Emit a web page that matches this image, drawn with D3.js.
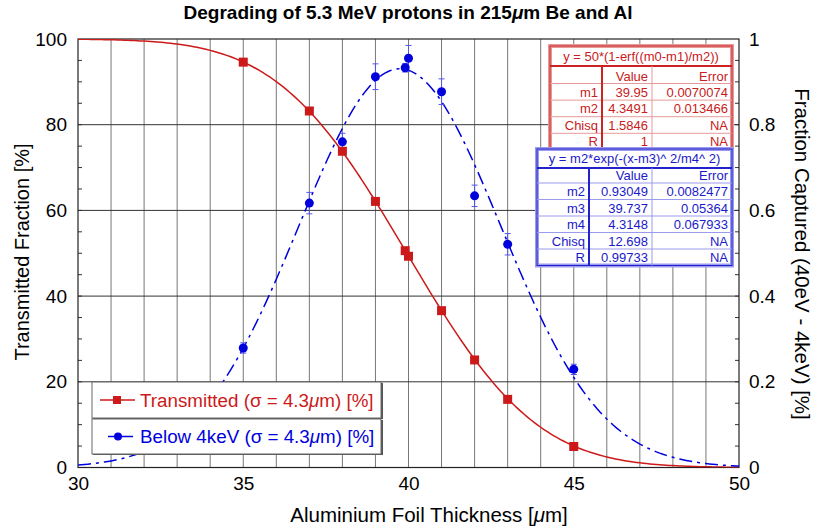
<!DOCTYPE html>
<html>
<head>
<meta charset="utf-8">
<script src="https://cdn.jsdelivr.net/npm/d3@7"></script>
<style>
  body { margin: 0; background: #fff; }
  svg { font-family: "Liberation Sans", Arial, sans-serif; }
</style>
</head>
<body>
<svg id="chart" width="814" height="531"></svg>
<script>
// measured thickness [um] and transmitted fraction [%]
const transX = [35, 37, 38, 39, 39.9, 40, 41, 42, 43, 45];
const transY = [94.6, 83.2, 73.8, 62.1, 50.6, 49.3, 36.6, 25.1, 15.9, 4.9];

// fraction captured below 4 keV, with error bars
const capX = [35, 37, 38, 39, 39.9, 40, 41, 42, 43, 45];
const capY = [0.279, 0.617, 0.760, 0.912, 0.933, 0.955, 0.877, 0.634, 0.521, 0.229];
const capErr = [0.012, 0.025, 0.02, 0.03, 0.01, 0.03, 0.03, 0.025, 0.025, 0.012];

// fit results as printed in the two tables
const transFormula = "y = 50*(1-erf((m0-m1)/m2))";
const transNames = ["m1", "m2", "Chisq", "R"];
const transValues = ["39.95", "4.3491", "1.5846", "1"];
const transErrors = ["0.0070074", "0.013466", "NA", "NA"];

const capFormula = "y = m2*exp(-(x-m3)^ 2/m4^ 2)";
const capNames = ["m2", "m3", "m4", "Chisq", "R"];
const capValues = ["0.93049", "39.737", "4.3148", "12.698", "0.99733"];
const capErrors = ["0.0082477", "0.05364", "0.067933", "NA", "NA"];

const xTicks = [30, 35, 40, 45, 50];
const yLeftTicks = [0, 20, 40, 60, 80, 100];
const yRightTicks = [0, 0.2, 0.4, 0.6, 0.8, 1];

const RED = "#cc1a1a";
const BLUE = "#0000dd";

const svg = d3.select("#chart");
const pL = 78, pR = 739, pT = 39, pB = 467.5;

const x = d3.scaleLinear().domain([30, 50]).range([pL, pR]);
const yL = d3.scaleLinear().domain([0, 100]).range([pB, pT]);
const yR = d3.scaleLinear().domain([0, 1]).range([pB, pT]);

svg.append("defs").append("clipPath").attr("id", "plot-clip")
  .append("rect").attr("x", pL).attr("y", pT)
  .attr("width", pR - pL).attr("height", pB - pT);

// grid: vertical every 1 um, horizontal at major left ticks
const grid = svg.append("g").attr("class", "grid");
grid.selectAll("line.v").data(d3.range(31, 50)).enter()
  .append("line").attr("class", "v")
  .attr("x1", d => x(d)).attr("x2", d => x(d))
  .attr("y1", pT).attr("y2", pB)
  .attr("stroke", "#777").attr("stroke-width", 1);
grid.selectAll("line.h").data([20, 40, 60, 80]).enter()
  .append("line").attr("class", "h")
  .attr("x1", pL).attr("x2", pR)
  .attr("y1", d => yL(d)).attr("y2", d => yL(d))
  .attr("stroke", "#333").attr("stroke-width", 1);

// axes
const fontSize = "19px";
const axBottom = svg.append("g").attr("transform", `translate(0,${pB})`)
  .call(d3.axisBottom(x).tickValues(xTicks).tickSize(0).tickPadding(9));
const axLeft = svg.append("g").attr("transform", `translate(${pL},0)`)
  .call(d3.axisLeft(yL).tickValues(yLeftTicks).tickSize(0).tickPadding(11));
const axRight = svg.append("g").attr("transform", `translate(${pR},0)`)
  .call(d3.axisRight(yR).tickValues(yRightTicks).tickSize(0).tickPadding(10)
    .tickFormat(d3.format("~g")));
[axBottom, axLeft, axRight].forEach(a => {
  a.select(".domain").remove();
  a.selectAll("text").attr("font-size", fontSize).attr("fill", "#000")
    .attr("font-family", "Liberation Sans, Arial, sans-serif");
});

// minor ticks (inside)
svg.append("g").selectAll("line").data(d3.range(5, 100, 5)).enter()
  .append("line")
  .attr("x1", pL).attr("x2", pL + 4)
  .attr("y1", d => yL(d)).attr("y2", d => yL(d))
  .attr("stroke", "#333");
svg.append("g").selectAll("line").data(d3.range(1, 20).map(d => d / 20)).enter()
  .append("line")
  .attr("x1", pR).attr("x2", pR - 4)
  .attr("y1", d => yR(d)).attr("y2", d => yR(d))
  .attr("stroke", "#333");

// frame
svg.append("rect").attr("x", pL).attr("y", pT)
  .attr("width", pR - pL).attr("height", pB - pT)
  .attr("fill", "none").attr("stroke", "#222").attr("stroke-width", 1.2);

// fit curves from the printed parameters
const m1 = +transValues[0], m2t = +transValues[1];
const g2 = +capValues[0], g3 = +capValues[1], g4 = +capValues[2];
const fitXs = d3.range(30, 50.001, 0.1);

function erf(v) {
  const s = v < 0 ? -1 : 1;
  v = Math.abs(v);
  const t = 1 / (1 + 0.3275911 * v);
  const p = 1 - (((((1.061405429 * t - 1.453152027) * t) + 1.421413741) * t - 0.284496736) * t + 0.254829592) * t * Math.exp(-v * v);
  return s * p;
}

const plot = svg.append("g").attr("clip-path", "url(#plot-clip)");

plot.append("path")
  .datum(fitXs.map(v => [v, 50 * (1 - erf((v - m1) / m2t))]))
  .attr("d", d3.line().x(d => x(d[0])).y(d => yL(d[1])))
  .attr("fill", "none").attr("stroke", RED).attr("stroke-width", 1.5);

plot.append("path")
  .datum(fitXs.map(v => [v, g2 * Math.exp(-Math.pow((v - g3) / g4, 2))]))
  .attr("d", d3.line().x(d => x(d[0])).y(d => yR(d[1])))
  .attr("fill", "none").attr("stroke", BLUE).attr("stroke-width", 1.5)
  .attr("stroke-dasharray", "13,5,3,5");

// error bars on captured fraction
const eb = svg.append("g").attr("stroke", "#5555ee").attr("stroke-width", 1);
capX.forEach((cx, i) => {
  const px = x(cx), y0 = yR(capY[i] - capErr[i]), y1 = yR(capY[i] + capErr[i]);
  eb.append("line").attr("x1", px).attr("x2", px).attr("y1", y0).attr("y2", y1);
  eb.append("line").attr("x1", px - 3).attr("x2", px + 3).attr("y1", y0).attr("y2", y0);
  eb.append("line").attr("x1", px - 3).attr("x2", px + 3).attr("y1", y1).attr("y2", y1);
});

// markers
svg.append("g").selectAll("rect").data(transX.map((v, i) => [v, transY[i]])).enter()
  .append("rect")
  .attr("x", d => x(d[0]) - 4.5).attr("y", d => yL(d[1]) - 4.5)
  .attr("width", 9).attr("height", 9).attr("fill", RED);

svg.append("g").selectAll("circle").data(capX.map((v, i) => [v, capY[i]])).enter()
  .append("circle")
  .attr("cx", d => x(d[0])).attr("cy", d => yR(d[1])).attr("r", 4.5)
  .attr("fill", BLUE);

// titles
svg.append("text").attr("x", 408).attr("y", 19).attr("text-anchor", "middle")
  .attr("font-size", "19px").attr("font-weight", "bold")
  .html("Degrading of 5.3 MeV protons in 215<tspan font-style='italic'>μ</tspan>m Be and Al");
svg.append("text").attr("x", 429).attr("y", 522).attr("text-anchor", "middle")
  .attr("font-size", "20.5px")
  .html("Aluminium Foil Thickness [<tspan font-style='italic'>μ</tspan>m]");
svg.append("text").attr("transform", "translate(29,252) rotate(-90)")
  .attr("text-anchor", "middle").attr("font-size", "20px")
  .text("Transmitted Fraction [%]");
svg.append("text").attr("transform", "translate(795,254) rotate(90)")
  .attr("text-anchor", "middle").attr("font-size", "20.5px")
  .text("Fraction Captured (40eV - 4keV) [%]");

// legend
const legend = svg.append("g");
const legItems = [
  { y0: 382, y1: 418, color: RED, shape: "square", label: "Transmitted (σ = 4.3", lx0: 100, lx1: 135 },
  { y0: 419, y1: 454, color: BLUE, shape: "circle", label: "Below 4keV (σ = 4.3", lx0: 108, lx1: 133 }
];
legItems.forEach(it => {
  legend.append("rect").attr("x", 93).attr("y", it.y0 + 1)
    .attr("width", 290).attr("height", it.y1 - it.y0).attr("fill", "#555");
  legend.append("rect").attr("x", 92).attr("y", it.y0)
    .attr("width", 289).attr("height", it.y1 - it.y0)
    .attr("fill", "#fff").attr("stroke", "#666").attr("stroke-width", 1);
  const cy = (it.y0 + it.y1) / 2;
  legend.append("line").attr("x1", it.lx0).attr("x2", it.lx1).attr("y1", cy).attr("y2", cy)
    .attr("stroke", it.color).attr("stroke-width", 1.5);
  if (it.shape === "square") {
    legend.append("rect").attr("x", 113).attr("y", cy - 4).attr("width", 8).attr("height", 8)
      .attr("fill", it.color);
  } else {
    legend.append("circle").attr("cx", 118).attr("cy", cy).attr("r", 4).attr("fill", it.color);
  }
  legend.append("text").attr("x", 140).attr("y", cy + 6.5).attr("font-size", "18.8px")
    .attr("fill", it.color)
    .html(it.label + "<tspan font-style='italic'>μ</tspan>m) [%]");
});

// fit tables
function drawTable(cfg) {
  const g = svg.append("g");
  const n = cfg.names.length;
  const rowYs = [cfg.y0, cfg.yHead];
  for (let i = 0; i <= n; i++) rowYs.push(cfg.yHead + cfg.headH + i * cfg.rowH);
  const yEnd = rowYs[rowYs.length - 1];
  g.append("rect").attr("x", cfg.x0).attr("y", cfg.y0)
    .attr("width", cfg.x1 - cfg.x0).attr("height", yEnd - cfg.y0)
    .attr("fill", "#fff").attr("stroke", cfg.light).attr("stroke-width", 4);
  g.append("rect").attr("x", cfg.x0).attr("y", cfg.y0)
    .attr("width", cfg.x1 - cfg.x0).attr("height", yEnd - cfg.y0)
    .attr("fill", "none").attr("stroke", cfg.color).attr("stroke-width", 1);
  // horizontal separators
  rowYs.slice(2, -1).forEach(yy => {
    g.append("line").attr("x1", cfg.x0).attr("x2", cfg.x1).attr("y1", yy).attr("y2", yy)
      .attr("stroke", cfg.light).attr("stroke-width", 1);
  });
  g.append("line").attr("x1", cfg.x0).attr("x2", cfg.x1)
    .attr("y1", cfg.yHead).attr("y2", cfg.yHead)
    .attr("stroke", cfg.color).attr("stroke-width", 2);
  // vertical separators
  g.append("line").attr("x1", cfg.c1).attr("x2", cfg.c1).attr("y1", cfg.yHead).attr("y2", yEnd)
    .attr("stroke", cfg.color).attr("stroke-width", 2);
  g.append("line").attr("x1", cfg.c2).attr("x2", cfg.c2).attr("y1", cfg.yHead).attr("y2", yEnd)
    .attr("stroke", cfg.light).attr("stroke-width", 1);
  const fs = "13px";
  g.append("text").attr("x", (cfg.x0 + cfg.x1) / 2).attr("y", cfg.yHead - 5)
    .attr("text-anchor", "middle").attr("font-size", fs).attr("fill", cfg.text)
    .text(cfg.formula);
  const hy = cfg.yHead + cfg.headH - 3;
  g.append("text").attr("x", cfg.c2 - 4).attr("y", hy).attr("text-anchor", "end")
    .attr("font-size", fs).attr("fill", cfg.text).text("Value");
  g.append("text").attr("x", cfg.x1 - 4).attr("y", hy).attr("text-anchor", "end")
    .attr("font-size", fs).attr("fill", cfg.text).text("Error");
  cfg.names.forEach((nm, i) => {
    const ty = cfg.yHead + cfg.headH + (i + 1) * cfg.rowH - 3.5;
    [[cfg.c1 - 4, nm], [cfg.c2 - 4, cfg.values[i]], [cfg.x1 - 4, cfg.errors[i]]].forEach(([tx, s]) => {
      g.append("text").attr("x", tx).attr("y", ty).attr("text-anchor", "end")
        .attr("font-size", fs).attr("fill", cfg.text).text(s);
    });
  });
}

drawTable({
  x0: 550, x1: 732, c1: 602, c2: 652, y0: 46, yHead: 66, headH: 17.5, rowH: 16.6,
  color: "#cc2222", light: "#e89a9a", text: "#c82020",
  formula: transFormula, names: transNames, values: transValues, errors: transErrors
});
drawTable({
  x0: 537, x1: 732, c1: 589, c2: 652, y0: 149, yHead: 168, headH: 15, rowH: 16.5,
  color: "#2222cc", light: "#9a9aee", text: "#1a1ac8",
  formula: capFormula, names: capNames, values: capValues, errors: capErrors
});
</script>
</body>
</html>
